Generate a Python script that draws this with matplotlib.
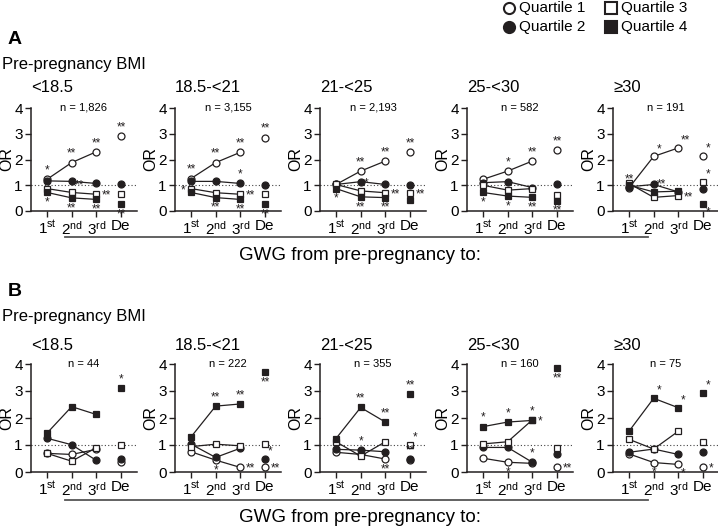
import matplotlib
matplotlib.use('Agg')
import matplotlib.pyplot as plt
from matplotlib.lines import Line2D

plt.rcParams['font.family'] = ['Liberation Sans', 'DejaVu Sans']
plt.rcParams['mathtext.fontset'] = 'custom'
plt.rcParams['mathtext.rm'] = 'Liberation Sans'

W, H = 718, 528
INK = '#231f20'

bmi_groups = ['<18.5', '18.5-<21', '21-<25', '25-<30', '\u226530']
time_ticks = [1, 2, 3, 4]
time_labels = [r'$\mathregular{1^{st}}$', r'$\mathregular{2^{nd}}$',
               r'$\mathregular{3^{rd}}$', 'De']

# panel A: whole pregnancy-window sample
A_n = ['1,826', '3,155', '2,193', '582', '191']
A_q1 = [[1.23, 1.88, 2.30, 2.90], [1.26, 1.88, 2.28, 2.85], [1.03, 1.55, 1.94, 2.28],
        [1.23, 1.55, 1.94, 2.35], [0.90, 2.12, 2.45, 2.15]]
A_q2 = [[1.17, 1.15, 1.07, 1.03], [1.15, 1.15, 1.07, 1.00], [1.03, 1.14, 1.03, 1.00],
        [1.10, 1.14, 0.91, 1.03], [0.94, 1.03, 0.74, 0.85]]
A_q3 = [[0.87, 0.72, 0.65, 0.67], [0.87, 0.71, 0.65, 0.67], [1.03, 0.78, 0.71, 0.68],
        [1.00, 0.81, 0.87, 0.64], [1.07, 0.53, 0.60, 1.13]]
A_q4 = [[0.72, 0.51, 0.45, 0.27], [0.72, 0.52, 0.45, 0.26], [0.87, 0.55, 0.52, 0.41],
        [0.72, 0.58, 0.53, 0.40], [1.00, 0.74, 0.77, 0.27]]
# (group, quartile, time index, stars, where)
A_stars = [
    (0, 1, 0, '*', 'a'), (0, 1, 1, '**', 'a'), (0, 1, 2, '**', 'a'), (0, 1, 3, '**', 'a'),
    (0, 3, 1, '**', 'ar'), (0, 3, 2, '**', 'r'), (0, 4, 0, '*', 'b'), (0, 4, 1, '**', 'b'),
    (0, 4, 2, '**', 'b'), (0, 4, 3, '**', 'b'),
    (1, 1, 0, '**', 'a'), (1, 1, 1, '**', 'a'), (1, 1, 2, '**', 'a'), (1, 1, 3, '**', 'a'),
    (1, 2, 2, '*', 'a'), (1, 3, 0, '*', 'l'), (1, 3, 2, '**', 'r'), (1, 4, 1, '**', 'b'),
    (1, 4, 2, '**', 'b'), (1, 4, 3, '**', 'b'),
    (2, 1, 1, '**', 'a'), (2, 1, 2, '**', 'a'), (2, 1, 3, '**', 'a'), (2, 4, 0, '*', 'b'),
    (2, 3, 1, '*', 'ar'), (2, 4, 1, '**', 'b'), (2, 3, 2, '**', 'r'), (2, 4, 2, '**', 'b'),
    (2, 3, 3, '**', 'r'),
    (3, 1, 1, '*', 'a'), (3, 1, 2, '**', 'a'), (3, 1, 3, '**', 'a'), (3, 4, 0, '*', 'b'),
    (3, 4, 1, '*', 'b'), (3, 4, 2, '**', 'b'), (3, 4, 3, '**', 'b'),
    (4, 1, 0, '**', 'a'), (4, 1, 1, '*', 'ar'), (4, 1, 2, '**', 'ar'), (4, 1, 3, '*', 'ar'),
    (4, 3, 3, '*', 'ar'), (4, 4, 3, '*', 'br'), (4, 4, 1, '**', 'ar'), (4, 3, 2, '**', 'r'),
]

# panel B
B_n = ['44', '222', '355', '160', '75']
B_q1 = [[0.69, 0.65, 0.84, 0.36], [0.75, 0.44, 0.17, 0.17], [0.73, 0.65, 0.48, 0.45],
        [0.51, 0.36, 0.32, 0.20], [0.67, 0.35, 0.28, 0.20]]
B_q2 = [[1.25, 1.01, 0.43, 0.48], [1.03, 0.54, 0.88, 0.48], [0.84, 0.81, 0.75, 0.47],
        [0.91, 0.91, 0.36, 0.65], [0.73, 0.85, 0.65, 0.75]]
B_q3 = [[0.69, 0.40, 0.90, 0.99], [0.94, 1.03, 0.97, 1.03], [1.12, 0.59, 1.12, 1.00],
        [1.04, 1.12, 1.93, 0.88], [1.21, 0.85, 1.51, 1.12]]
B_q4 = [[1.44, 2.42, 2.13, 3.11], [1.30, 2.44, 2.52, 3.71], [1.24, 2.39, 1.85, 2.89],
        [1.68, 1.85, 1.91, 3.85], [1.51, 2.73, 2.38, 2.92]]
B_stars = [
    (0, 4, 3, '*', 'a'),
    (1, 4, 1, '**', 'a'), (1, 4, 2, '**', 'a'), (1, 4, 3, '**', 'b'), (1, 1, 1, '*', 'b'),
    (1, 1, 2, '**', 'r'), (1, 2, 3, '*', 'ar'), (1, 1, 3, '**', 'r'),
    (2, 4, 1, '**', 'a'), (2, 4, 2, '**', 'a'), (2, 4, 3, '**', 'a'), (2, 2, 1, '*', 'a'),
    (2, 1, 2, '**', 'b'), (2, 3, 3, '*', 'ar'), (2, 2, 3, '**', 'a'),
    (3, 4, 0, '*', 'a'), (3, 4, 1, '*', 'a'), (3, 3, 2, '*', 'a'), (3, 4, 2, '*', 'r'),
    (3, 4, 3, '**', 'b'), (3, 1, 1, '*', 'b'), (3, 2, 2, '*', 'a'), (3, 1, 3, '**', 'r'),
    (4, 4, 1, '*', 'ar'), (4, 4, 2, '*', 'ar'), (4, 4, 3, '*', 'ar'), (4, 1, 1, '*', 'b'),
    (4, 1, 2, '*', 'br'), (4, 1, 3, '*', 'r'),
]

quartile_styles = {1: ('o', 'white'), 2: ('o', INK), 3: ('s', 'white'), 4: ('s', INK)}
star_offsets = {'a': (0, 2, 'center', 'bottom'), 'b': (0, -3, 'center', 'top'),
                'r': (4, -1, 'left', 'center'), 'l': (-4, -1, 'right', 'center'),
                'ar': (2, 1, 'left', 'bottom'), 'br': (2, -2, 'left', 'top')}

axes_left = [31, 175, 320, 467, 613]
AX_W = 106

fig = plt.figure(figsize=(W / 100, H / 100), dpi=100)


def draw_panel(letter, quartiles, n_list, stars, bottom, height, letter_y, text_top):
    axes = []
    for g in range(5):
        ax = fig.add_axes([axes_left[g] / W, 1 - bottom / H, AX_W / W, height / H])
        ax.axhline(1, color='#444', lw=0.8, ls=(0, (1, 2)), zorder=1)
        for q, vals in zip([1, 2, 3, 4], quartiles):
            m, fc = quartile_styles[q]
            v = vals[g]
            ax.plot(time_ticks[:3], v[:3], color=INK, lw=0.9, marker=m, ms=5,
                    mfc=fc, mec=INK, mew=0.9, zorder=3, clip_on=False)
            ax.plot(time_ticks[3], v[3], ls='none', marker=m, ms=5,
                    mfc=fc, mec=INK, mew=0.9, zorder=3, clip_on=False)
        ax.set_xlim(0.35, 4.65)
        ax.set_ylim(0, 4)
        ax.set_yticks([0, 1, 2, 3, 4])
        ax.set_xticks(time_ticks)
        ax.set_xticklabels(time_labels)
        ax.tick_params(labelsize=11, length=4, width=1, color=INK, pad=2)
        for s in ['top', 'right']:
            ax.spines[s].set_visible(False)
        for s in ['left', 'bottom']:
            ax.spines[s].set_linewidth(1.1)
            ax.spines[s].set_color(INK)
        ax.set_ylabel('OR', fontsize=11.5, labelpad=0)
        ax.text(0.5, 1.0, 'n = ' + n_list[g], transform=ax.transAxes, ha='center',
                va='center', fontsize=8)
        fig.text(axes_left[g] / W, 1 - text_top / H, bmi_groups[g], fontsize=12,
                 ha='left', va='center')
        axes.append(ax)
    for g, q, t, txt, where in stars:
        dx, dy, ha, va = star_offsets[where]
        y = quartiles[q - 1][g][t]
        axes[g].annotate(txt, (time_ticks[t], y), xytext=(dx, dy),
                         textcoords='offset points', ha=ha, va=va, fontsize=8.5,
                         color=INK, annotation_clip=False)
    fig.text(8 / W, 1 - letter_y / H, letter, fontsize=14, fontweight='bold',
             ha='left', va='center')
    fig.text(2 / W, 1 - (letter_y + 24) / H, 'Pre-pregnancy BMI', fontsize=12,
             ha='left', va='center')


draw_panel('A', [A_q1, A_q2, A_q3, A_q4], A_n, A_stars, 211, 103, 40, 88)
draw_panel('B', [B_q1, B_q2, B_q3, B_q4], B_n, B_stars, 472, 108, 292, 345)

for ly, ty in [(237, 255), (500, 517)]:
    fig.add_artist(Line2D([65 / W, 648 / W], [1 - ly / H] * 2, transform=fig.transFigure,
                          color='#555', lw=1.3))
    fig.text(360 / W, 1 - ty / H, 'GWG from pre-pregnancy to:', fontsize=13.5,
             ha='center', va='center')

# legend
legend_items = [('Quartile 1', 1, 509, 8), ('Quartile 2', 2, 509, 27),
                ('Quartile 3', 3, 611, 8), ('Quartile 4', 4, 611, 27)]
for label, q, lx, ly in legend_items:
    m, fc = quartile_styles[q]
    fig.add_artist(Line2D([lx / W], [1 - ly / H], transform=fig.transFigure, ls='none',
                          marker=m, ms=8, mfc=fc, mec=INK, mew=1.5))
    fig.text((lx + 10) / W, 1 - ly / H, label, fontsize=11, ha='left', va='center')

fig.savefig('out.png', dpi=100)
